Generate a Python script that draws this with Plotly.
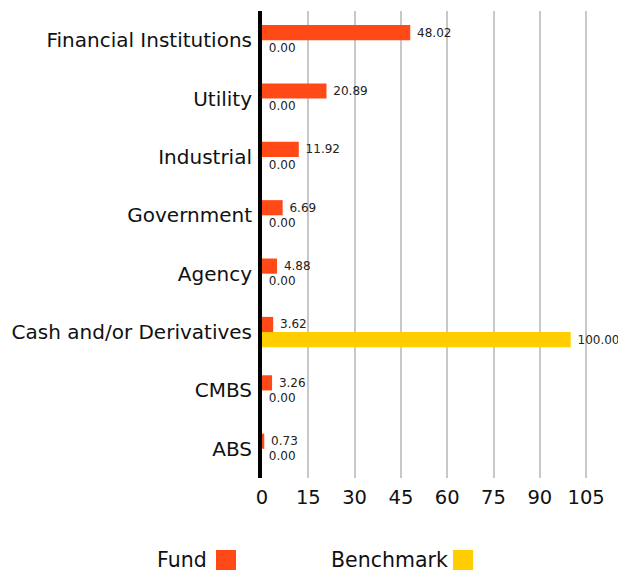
import plotly.graph_objects as go

categories = ["Financial Institutions", "Utility", "Industrial", "Government",
              "Agency", "Cash and/or Derivatives", "CMBS", "ABS"]
fund = [48.02, 20.89, 11.92, 6.69, 4.88, 3.62, 3.26, 0.73]
benchmark = [0.00, 0.00, 0.00, 0.00, 0.00, 100.00, 0.00, 0.00]
series_names = ["Fund", "Benchmark"]
tick_vals = [0, 15, 30, 45, 60, 75, 90, 105]

colors = ["#FF4A17", "#FFCE00"]
FONT = "DejaVu Sans"

fig = go.Figure()
for name, vals, col in zip(series_names, [fund, benchmark], colors):
    fig.add_trace(go.Bar(
        y=categories, x=vals, name=name, orientation="h",
        marker=dict(color=col, line=dict(width=0)),
        text=[f"\u00a0{v:.2f}" for v in vals],
        textposition="outside", cliponaxis=False,
        textfont=dict(family=FONT, size=12, color="#222"),
        showlegend=False,
    ))

W, H = 626, 571
OFF = 8  # page offset of the figure inside the window
ml, mr, mt, mb = 254, 17, 3, 101
fig.update_layout(
    width=W, height=H,
    margin=dict(l=ml, r=mr, t=mt, b=mb, autoexpand=False),
    barmode="group", bargap=0.48, bargroupgap=0,
    plot_bgcolor="white", paper_bgcolor="white",
    font=dict(family=FONT, size=19.5, color="#111"),
    xaxis=dict(range=[0, 115], tickvals=tick_vals, showgrid=True,
               gridcolor="#c8c8c8", gridwidth=2, zeroline=False,
               ticks="", showline=False, automargin=False,
               ticklabelstandoff=5),
    yaxis=dict(autorange="reversed", showgrid=False, zeroline=False,
               showline=True, linecolor="black", linewidth=4,
               ticks="outside", ticklen=2, tickcolor="rgba(0,0,0,0)",
               tickfont=dict(size=20), automargin=False),
)

# custom legend: text followed by swatch
PW, PH = W - ml - mr, H - mt - mb
def px(x):
    return (x - OFF - ml) / PW
def py(y):
    return (H - mb - (y - OFF)) / PH
for name, x0 in zip(series_names, [157, 331]):
    fig.add_annotation(text=name, xref="paper", yref="paper",
                       x=px(x0 - 2), y=py(560),
                       xanchor="left", yanchor="middle", showarrow=False,
                       font=dict(size=20.5, color="#111", family=FONT))
for col, sx in zip(colors, [216, 453]):
    fig.add_shape(type="rect", xref="paper", yref="paper",
                  x0=px(sx), x1=px(sx + 20), y0=py(570), y1=py(550),
                  fillcolor=col, line=dict(width=0))

fig.write_html("out.html")
